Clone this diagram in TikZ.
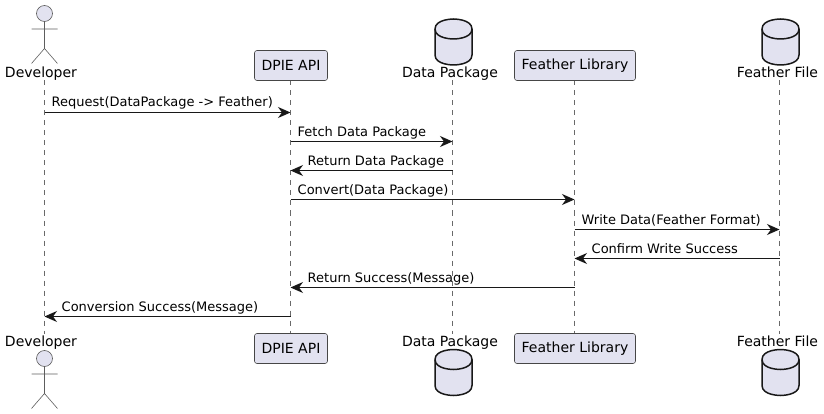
\documentclass[tikz,border=0pt]{standalone}
\usepackage{fontspec}
\setmainfont{DejaVu Sans}
\usetikzlibrary{arrows.meta}

\definecolor{partfill}{HTML}{E2E2F0}
\definecolor{partline}{HTML}{181818}

\tikzset{
  partbox/.style={draw=partline!80,fill=partfill,line width=0.6pt,rounded corners=2.5pt,inner sep=0pt,minimum height=30pt,font=\fontsize{14pt}{16pt}\selectfont},
  partname/.style={anchor=base,inner sep=0pt,font=\fontsize{14pt}{16pt}\selectfont},
  msgtext/.style={anchor=base west,inner sep=0pt,font=\fontsize{13pt}{15pt}\selectfont},
  lifeline/.style={draw=partline!65,line width=0.5pt,dash pattern=on 5pt off 5pt},
  msg/.style={draw=partline,line width=1pt,->},
  dbcan/.pic={
    \draw[fill=partfill,draw=partline,line width=1.5pt] (0,10) .. controls (0,0) and (18.5,0) .. (18.5,0) .. controls (18.5,0) and (37,0) .. (37,10) -- (37,36) .. controls (37,46) and (18.5,46) .. (18.5,46) .. controls (18.5,46) and (0,46) .. (0,36) -- cycle;
    \draw[draw=partline,line width=1.5pt] (0,10) .. controls (0,20) and (18.5,20) .. (18.5,20) .. controls (18.5,20) and (37,20) .. (37,10);
  },
  stickman/.pic={
    \draw[fill=partfill,draw=partline!70,line width=0.6pt] (0,0) circle (8);
    \draw[draw=partline!70,line width=0.6pt] (0,8) -- (0,35) (-13,15.5) -- (13,15.5) (-13,50) -- (0,35) -- (13,50);
  },
}

\begin{document}
\begin{tikzpicture}[x=1pt,y=-1pt,>={Stealth[length=12.5pt,width=11pt,inset=4pt]}]
\useasboundingbox (0,0) rectangle (824,414);

% lifeline positions
\foreach \lane/\xpos in {dev/44.5,api/290.5,data/452.5,lib/574.5,file/779.5} {
  \coordinate (\lane top) at (\xpos,80.5);
  \coordinate (\lane end) at (\xpos,333.5);
  \foreach \row/\ypos in {1/112.5,2/141.5,3/170.5,4/199.5,5/229.5,6/258.5,7/287.5,8/316.5}
    \coordinate (\lane\row) at (\xpos,\ypos);
}

% lifelines
\foreach \lane in {dev,api,data,lib,file}
  \draw[lifeline] (\lane top) -- (\lane end);

% participants top
\pic at (44.5,13.5) {stickman};
\node[partname] (devname) at (41,78) {Developer};
\node[partbox,minimum width=73pt] (api) at (291,65.5) {DPIE API};
\pic at (435,19) {dbcan};
\node[partname] (dataname) at (450,78) {Data Package};
\node[partbox,minimum width=121pt] (lib) at (575,65.5) {Feather Library};
\pic at (762,19) {dbcan};
\node[partname] (filename) at (777.5,78) {Feather File};

% participants bottom
\pic at (44.5,358.5) {stickman};
\node[partname] (devnameb) at (41,346) {Developer};
\node[partbox,minimum width=73pt] (apib) at (291,348.5) {DPIE API};
\pic at (435,349.5) {dbcan};
\node[partname] (datanameb) at (450,346) {Data Package};
\node[partbox,minimum width=121pt] (libb) at (575,348.5) {Feather Library};
\pic at (762,349.5) {dbcan};
\node[partname] (filenameb) at (777.5,346) {Feather File};

% messages
\draw[msg] (dev1) -- (api1);
\node[msgtext] (m1) at (51.5,107) {Request(DataPackage -> Feather)};
\draw[msg] (api2) -- (data2);
\node[msgtext] (m2) at (297.5,136.5) {Fetch Data Package};
\draw[msg] (data3) -- (api3);
\node[msgtext] (m3) at (307.5,165.5) {Return Data Package};
\draw[msg] (api4) -- (lib4);
\node[msgtext] (m4) at (297.5,194.5) {Convert(Data Package)};
\draw[msg] (lib5) -- (file5);
\node[msgtext] (m5) at (581.5,224) {Write Data(Feather Format)};
\draw[msg] (file6) -- (lib6);
\node[msgtext] (m6) at (591.5,253) {Confirm Write Success};
\draw[msg] (lib7) -- (api7);
\node[msgtext] (m7) at (307.5,282) {Return Success(Message)};
\draw[msg] (api8) -- (dev8);
\node[msgtext] (m8) at (61.5,311) {Conversion Success(Message)};

\end{tikzpicture}
\end{document}
